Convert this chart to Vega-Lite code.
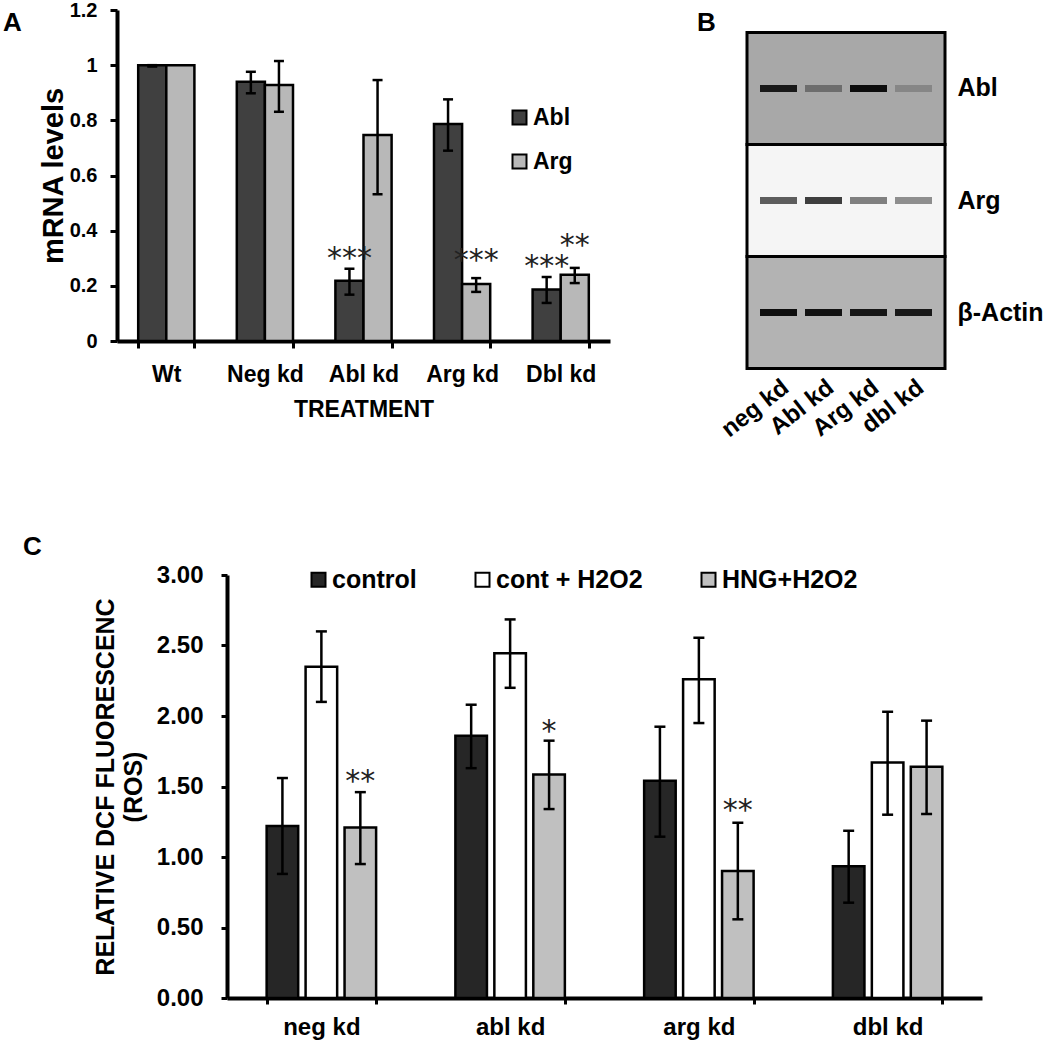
{
  "$schema": "https://vega.github.io/schema/vega-lite/v6.json",
  "padding": {"left": 3, "top": 0, "right": 2, "bottom": 2},
  "background": "white",
  "spacing": 92,
  "resolve": {"scale": {"fill": "independent", "opacity": "independent", "xOffset": "independent"}, "legend": {"fill": "independent"}},
  "config": {
    "view": {"stroke": null},
    "font": "Liberation Sans",
    "axis": {"grid": false, "domainColor": "black", "tickColor": "black", "labelColor": "black", "titleColor": "black", "labelFontWeight": "bold", "titleFontWeight": "bold", "domainWidth": 4, "tickWidth": 3},
    "legend": {"labelColor": "black", "labelFontWeight": "bold", "symbolStrokeColor": "black", "symbolStrokeWidth": 2, "symbolType": "square"}
  },
  "datasets": {
    "mrna": [
      {"treatment": "Wt", "gene": "Abl", "value": 1.0, "lo": 0.995, "hi": 1.0},
      {"treatment": "Wt", "gene": "Arg", "value": 1.0},
      {"treatment": "Neg kd", "gene": "Abl", "value": 0.94, "lo": 0.898, "hi": 0.976},
      {"treatment": "Neg kd", "gene": "Arg", "value": 0.928, "lo": 0.831, "hi": 1.015},
      {"treatment": "Abl kd", "gene": "Abl", "value": 0.218, "lo": 0.168, "hi": 0.262},
      {"treatment": "Abl kd", "gene": "Arg", "value": 0.747, "lo": 0.532, "hi": 0.946},
      {"treatment": "Arg kd", "gene": "Abl", "value": 0.787, "lo": 0.69, "hi": 0.876},
      {"treatment": "Arg kd", "gene": "Arg", "value": 0.207, "lo": 0.178, "hi": 0.228},
      {"treatment": "Dbl kd", "gene": "Abl", "value": 0.187, "lo": 0.138, "hi": 0.232},
      {"treatment": "Dbl kd", "gene": "Arg", "value": 0.24, "lo": 0.21, "hi": 0.265}
    ],
    "mrnaStars": [
      {"treatment": "Abl kd", "gene": "Abl", "star": "***", "star_y": 0.266},
      {"treatment": "Arg kd", "gene": "Arg", "star": "***", "star_y": 0.256},
      {"treatment": "Dbl kd", "gene": "Abl", "star": "***", "star_y": 0.236},
      {"treatment": "Dbl kd", "gene": "Arg", "star": "**", "star_y": 0.31}
    ],
    "blotRows": [
      {"protein": "Abl"},
      {"protein": "Arg"},
      {"protein": "β-Actin"}
    ],
    "blotBands": [
      {"lane": "neg kd", "protein": "Abl", "intensity": 0.85},
      {"lane": "Abl kd", "protein": "Abl", "intensity": 0.35},
      {"lane": "Arg kd", "protein": "Abl", "intensity": 0.92},
      {"lane": "dbl kd", "protein": "Abl", "intensity": 0.2},
      {"lane": "neg kd", "protein": "Arg", "intensity": 0.62},
      {"lane": "Abl kd", "protein": "Arg", "intensity": 0.75},
      {"lane": "Arg kd", "protein": "Arg", "intensity": 0.48},
      {"lane": "dbl kd", "protein": "Arg", "intensity": 0.42},
      {"lane": "neg kd", "protein": "β-Actin", "intensity": 0.92},
      {"lane": "Abl kd", "protein": "β-Actin", "intensity": 0.9},
      {"lane": "Arg kd", "protein": "β-Actin", "intensity": 0.88},
      {"lane": "dbl kd", "protein": "β-Actin", "intensity": 0.86}
    ],
    "ros": [
      {"kd": "neg kd", "group": "control", "value": 1.22, "lo": 0.88, "hi": 1.56},
      {"kd": "neg kd", "group": "cont + H2O2", "value": 2.35, "lo": 2.1, "hi": 2.6},
      {"kd": "neg kd", "group": "HNG+H2O2", "value": 1.21, "lo": 0.95, "hi": 1.46},
      {"kd": "abl kd", "group": "control", "value": 1.86, "lo": 1.63, "hi": 2.08},
      {"kd": "abl kd", "group": "cont + H2O2", "value": 2.445, "lo": 2.2, "hi": 2.685},
      {"kd": "abl kd", "group": "HNG+H2O2", "value": 1.585, "lo": 1.34, "hi": 1.825},
      {"kd": "arg kd", "group": "control", "value": 1.54, "lo": 1.144, "hi": 1.924},
      {"kd": "arg kd", "group": "cont + H2O2", "value": 2.26, "lo": 1.95, "hi": 2.555},
      {"kd": "arg kd", "group": "HNG+H2O2", "value": 0.9, "lo": 0.558, "hi": 1.243},
      {"kd": "dbl kd", "group": "control", "value": 0.935, "lo": 0.676, "hi": 1.186},
      {"kd": "dbl kd", "group": "cont + H2O2", "value": 1.67, "lo": 1.3, "hi": 2.03},
      {"kd": "dbl kd", "group": "HNG+H2O2", "value": 1.64, "lo": 1.305, "hi": 1.967}
    ],
    "rosStars": [
      {"kd": "neg kd", "group": "HNG+H2O2", "star": "**", "star_y": 1.47},
      {"kd": "abl kd", "group": "HNG+H2O2", "star": "*", "star_y": 1.82},
      {"kd": "arg kd", "group": "HNG+H2O2", "star": "**", "star_y": 1.26}
    ]
  },
  "vconcat": [
    {
      "bounds": "flush",
      "spacing": 137,
      "resolve": {"scale": {"fill": "independent", "opacity": "independent", "xOffset": "independent"}, "legend": {"fill": "independent"}},
      "hconcat": [
        {
          "width": 493,
          "height": 331,
          "title": {"text": "A", "anchor": "start", "frame": "group", "orient": "top", "offset": -35, "baseline": "alphabetic", "dx": -114, "dy": 22, "fontSize": 26, "fontWeight": "bold", "color": "black"},
          "data": {"name": "mrna"},
          "encoding": {
            "x": {"field": "treatment", "type": "nominal", "scale": {"domain": ["Wt", "Neg kd", "Abl kd", "Arg kd", "Dbl kd"], "paddingInner": 0.43, "paddingOuter": 0.215}, "title": "TREATMENT",
              "axis": {"labelAngle": 0, "labelFontSize": 23, "labelPadding": 15, "titleFontSize": 23, "titlePadding": 12, "tickBand": "extent", "tickSize": 7}},
            "xOffset": {"field": "gene", "type": "nominal", "scale": {"domain": ["Abl", "Arg"], "paddingInner": 0, "paddingOuter": 0}}
          },
          "layer": [
            {
              "mark": {"type": "bar", "stroke": "black", "strokeWidth": 2.5},
              "encoding": {
                "y": {"field": "value", "type": "quantitative", "scale": {"domain": [0, 1.2]}, "title": "mRNA levels",
                  "axis": {"values": [0, 0.2, 0.4, 0.6, 0.8, 1, 1.2], "format": "~g", "labelFontSize": 20, "labelPadding": 13, "tickSize": 7, "titleFontSize": 29, "titlePadding": 1}},
                "fill": {"field": "gene", "type": "nominal", "scale": {"domain": ["Abl", "Arg"], "range": ["#404040", "#b8b8b8"]},
                  "legend": {"title": null, "orient": "none", "legendX": 391, "legendY": 96, "direction": "vertical", "symbolSize": 196, "labelFontSize": 23, "rowPadding": 20, "labelOffset": 2}}
              }
            },
            {
              "transform": [{"filter": "isValid(datum.lo)"}],
              "mark": {"type": "rule", "color": "black", "strokeWidth": 2.5},
              "encoding": {
                "y": {"field": "lo", "type": "quantitative", "title": "mRNA levels"},
                "y2": {"field": "hi"}
              }
            },
            {
              "transform": [{"filter": "isValid(datum.lo)"}],
              "mark": {"type": "point", "shape": "M-1,0H1", "size": 100, "filled": false, "strokeWidth": 2.5, "color": "black", "opacity": 1},
              "encoding": {
                "y": {"field": "lo", "type": "quantitative", "title": "mRNA levels"}
              }
            },
            {
              "transform": [{"filter": "isValid(datum.lo)"}],
              "mark": {"type": "point", "shape": "M-1,0H1", "size": 100, "filled": false, "strokeWidth": 2.5, "color": "black", "opacity": 1},
              "encoding": {
                "y": {"field": "hi", "type": "quantitative", "title": "mRNA levels"}
              }
            },
            {
              "data": {"name": "mrnaStars"},
              "mark": {"type": "text", "font": "DejaVu Sans", "fontSize": 30, "baseline": "alphabetic", "color": "#222222"},
              "encoding": {
                "y": {"field": "star_y", "type": "quantitative", "title": "mRNA levels"},
                "text": {"field": "star"}
              }
            }
          ]
        },
        {
          "width": 198,
          "height": 381,
          "title": {"text": "B", "anchor": "start", "frame": "group", "orient": "top", "offset": -27, "baseline": "alphabetic", "dx": -50, "dy": 20, "fontSize": 26, "fontWeight": "bold", "color": "black"},
          "layer": [
            {
              "data": {"name": "blotRows"},
              "mark": {"type": "rect", "stroke": "black", "strokeWidth": 3},
              "encoding": {
                "y": {"field": "protein", "type": "nominal", "scale": {"domain": ["Abl", "Arg", "β-Actin"], "paddingInner": 0, "paddingOuter": 0.2}, "title": null,
                  "axis": {"orient": "right", "domain": false, "ticks": false, "labelPadding": 12, "labelFontSize": 25}},
                "fill": {"field": "protein", "type": "nominal", "scale": {"domain": ["Abl", "Arg", "β-Actin"], "range": ["#a8a8a8", "#f5f5f5", "#b3b3b3"]}, "legend": null}
              }
            },
            {
              "data": {"name": "blotBands"},
              "mark": {"type": "rect", "width": 37, "height": 7, "color": "black"},
              "encoding": {
                "x": {"field": "lane", "type": "nominal", "scale": {"domain": ["neg kd", "Abl kd", "Arg kd", "dbl kd"], "paddingInner": 0, "paddingOuter": 0.2}, "title": null,
                  "axis": {"orient": "bottom", "offset": -22, "labelAngle": -38, "domain": false, "ticks": false, "labelFontSize": 24, "labelPadding": 6, "labelDx": 12}},
                "y": {"field": "protein", "type": "nominal", "title": null},
                "opacity": {"field": "intensity", "type": "quantitative", "scale": {"domain": [0, 1], "range": [0, 1]}, "legend": null}
              }
            }
          ]
        }
      ]
    },
    {
      "bounds": "flush",
      "spacing": 20,
      "resolve": {"scale": {"fill": "independent", "xOffset": "independent"}, "legend": {"fill": "independent"}},
      "hconcat": [
        {
          "width": 90,
          "height": 10,
          "data": {"values": [{"s": 1}]},
          "mark": {"type": "rect", "opacity": 0},
          "encoding": {}
        },
        {
          "width": 755,
          "height": 423,
          "title": {"text": "C", "anchor": "start", "frame": "group", "orient": "top", "offset": -38, "baseline": "alphabetic", "dx": -204, "dy": -20, "fontSize": 26, "fontWeight": "bold", "color": "black"},
          "data": {"name": "ros"},
          "encoding": {
            "x": {"field": "kd", "type": "nominal", "scale": {"domain": ["neg kd", "abl kd", "arg kd", "dbl kd"], "paddingInner": 0.42, "paddingOuter": 0.21}, "title": null,
              "axis": {"labelAngle": 0, "labelFontSize": 24, "labelPadding": 11, "tickBand": "extent", "tickSize": 6}},
            "xOffset": {"field": "group", "type": "nominal", "scale": {"domain": ["control", "cont + H2O2", "HNG+H2O2"], "paddingInner": 0.19, "paddingOuter": 0}}
          },
          "layer": [
            {
              "mark": {"type": "bar", "stroke": "black", "strokeWidth": 2.5},
              "encoding": {
                "y": {"field": "value", "type": "quantitative", "scale": {"domain": [0, 3]}, "title": ["RELATIVE DCF FLUORESCENC", "(ROS)"],
                  "axis": {"values": [0, 0.5, 1, 1.5, 2, 2.5, 3], "format": ".2f", "labelFontSize": 24, "labelPadding": 18, "tickSize": 6, "titleFontSize": 25, "titleLineHeight": 28, "titlePadding": 10}},
                "fill": {"field": "group", "type": "nominal", "scale": {"domain": ["control", "cont + H2O2", "HNG+H2O2"], "range": ["#262626", "#ffffff", "#c0c0c0"]},
                  "legend": {"title": null, "orient": "none", "legendX": 79, "legendY": -8, "direction": "horizontal", "columns": 3, "columnPadding": 53, "symbolSize": 196, "labelFontSize": 25, "labelOffset": 1}}
              }
            },
            {
              "mark": {"type": "rule", "color": "black", "strokeWidth": 2.5},
              "encoding": {
                "y": {"field": "lo", "type": "quantitative", "title": ["RELATIVE DCF FLUORESCENC", "(ROS)"]},
                "y2": {"field": "hi"}
              }
            },
            {
              "mark": {"type": "point", "shape": "M-1,0H1", "size": 121, "filled": false, "strokeWidth": 2.5, "color": "black", "opacity": 1},
              "encoding": {
                "y": {"field": "lo", "type": "quantitative", "title": ["RELATIVE DCF FLUORESCENC", "(ROS)"]}
              }
            },
            {
              "mark": {"type": "point", "shape": "M-1,0H1", "size": 121, "filled": false, "strokeWidth": 2.5, "color": "black", "opacity": 1},
              "encoding": {
                "y": {"field": "hi", "type": "quantitative", "title": ["RELATIVE DCF FLUORESCENC", "(ROS)"]}
              }
            },
            {
              "data": {"name": "rosStars"},
              "mark": {"type": "text", "font": "DejaVu Sans", "fontSize": 30, "baseline": "alphabetic", "color": "#222222"},
              "encoding": {
                "y": {"field": "star_y", "type": "quantitative", "title": ["RELATIVE DCF FLUORESCENC", "(ROS)"]},
                "text": {"field": "star"}
              }
            }
          ]
        }
      ]
    }
  ]
}
